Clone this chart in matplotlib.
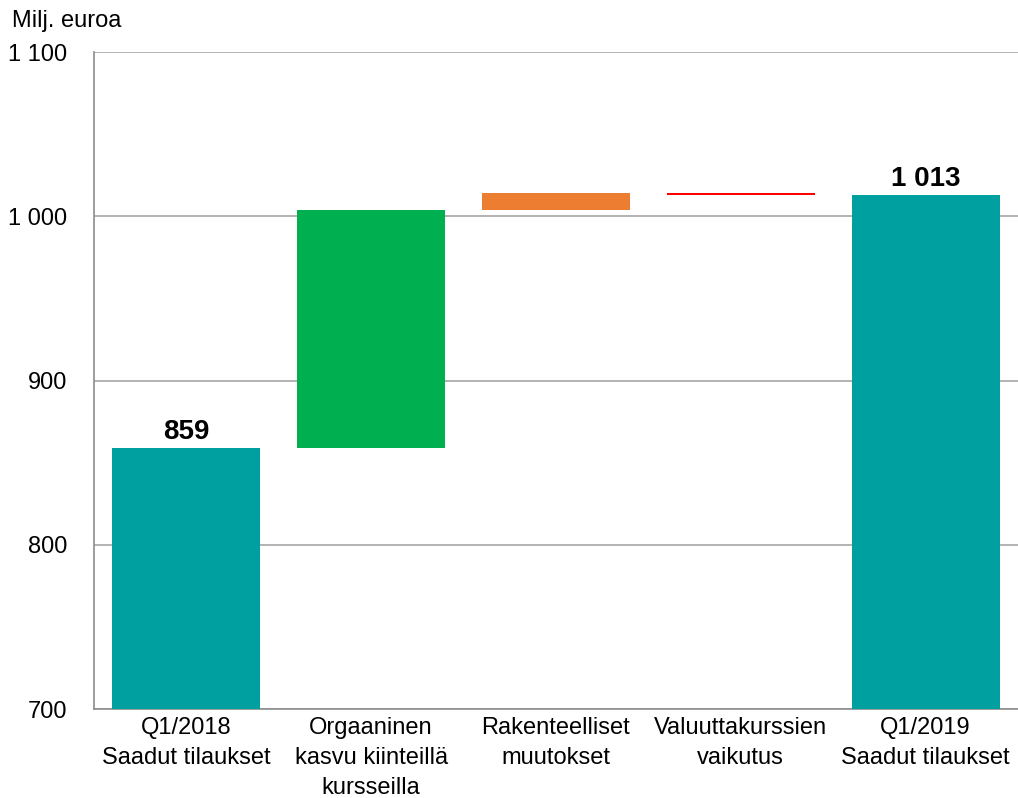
import matplotlib
matplotlib.use('Agg')
import matplotlib.pyplot as plt
import numpy as np

# Waterfall: orders received Q1/2018 -> Q1/2019
categories = ['Q1/2018\nSaadut tilaukset',
              'Orgaaninen\nkasvu kiinteillä\nkursseilla',
              'Rakenteelliset\nmuutokset',
              'Valuuttakurssien\nvaikutus',
              'Q1/2019\nSaadut tilaukset']
start_value = 859
changes = [145, 10, -1]
end_value = 1013
bar_colors = ['#00A0A0', '#00B050', '#ED7D31', '#FF0000', '#00A0A0']
yticks = [700, 800, 900, 1000, 1100]
ytick_labels = ['700', '800', '900', '1 000', '1 100']

plt.rcParams['font.family'] = ['Liberation Sans', 'DejaVu Sans']

# bottoms and heights of the floating bars
running = start_value + np.cumsum([0] + changes)
bottoms = [0] + list(running[:-1]) + [0]
heights = [start_value] + changes + [end_value]

fig = plt.figure(figsize=(10.18, 7.98), dpi=100)
ax = fig.add_axes([0.0923, 0.1115, 0.9077, 0.8233])

x = np.arange(len(categories))
ax.bar(x, heights, bottom=bottoms, width=0.8, color=bar_colors,
       linewidth=0, zorder=3)

# value labels on the total bars
for i, val in [(0, start_value), (len(categories) - 1, end_value)]:
    ax.text(x[i], val + 1.5, f'{val:,}'.replace(',', ' '),
            ha='center', va='bottom', fontsize=20, fontweight='bold')

ax.set_xlim(-0.5, len(categories) - 0.5)
ax.set_ylim(700, 1100)
ax.set_yticks(yticks)
ax.set_yticklabels(ytick_labels, fontsize=17)
ax.set_xticks(x)
ax.set_xticklabels(categories, fontsize=17, linespacing=1.45)
ax.tick_params(axis='both', length=0)
ax.tick_params(axis='y', pad=19)
ax.tick_params(axis='x', pad=6)

ax.grid(axis='y', color='#A6A6A6', linewidth=1.2, zorder=0)
for side in ['top', 'right']:
    ax.spines[side].set_visible(False)
ax.spines['left'].set_color('#8C8C8C')
ax.spines['bottom'].set_color('#8C8C8C')
ax.spines['left'].set_linewidth(1.2)
ax.spines['bottom'].set_linewidth(1.2)

fig.text(0.012, 0.988, 'Milj. euroa', fontsize=17, ha='left', va='top')

fig.savefig('out.png', dpi=100)
